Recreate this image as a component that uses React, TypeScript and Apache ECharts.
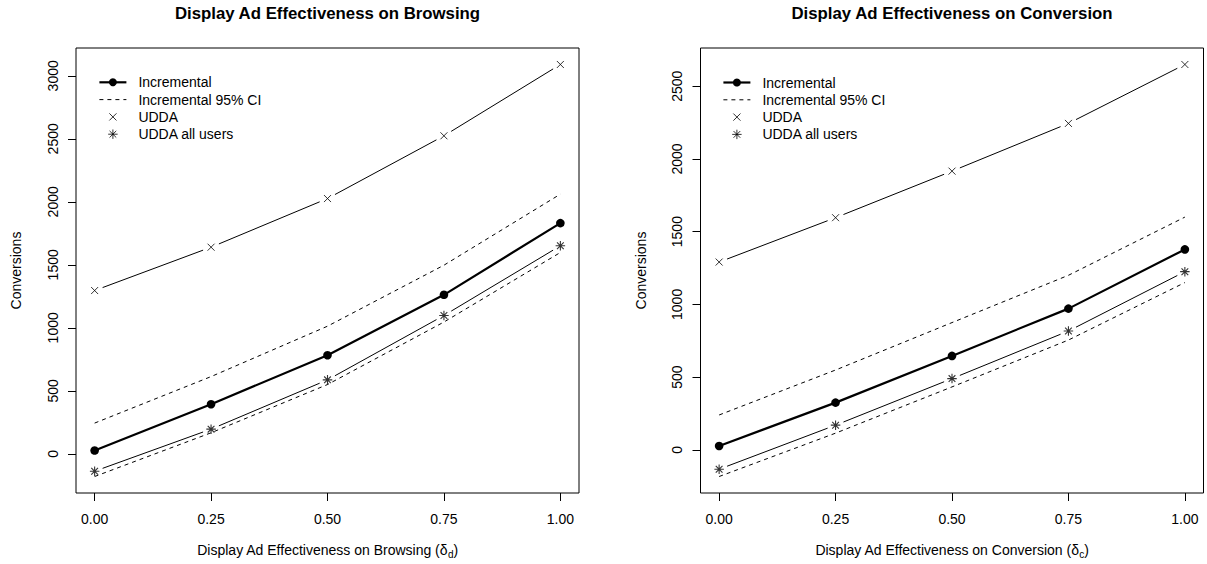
import React, { useEffect, useRef } from "react";
import * as echarts from "echarts";

// ---------- data ----------
const deltas = [0, 0.25, 0.5, 0.75, 1];
const xTickValues = [0, 0.25, 0.5, 0.75, 1];

const browsingIncremental = [26, 394, 783, 1262, 1831];
const browsingCIUpper = [244, 613, 1013, 1497, 2061];
const browsingCILower = [-180, 167, 550, 1046, 1598];
const browsingUDDA = [1296, 1640, 2026, 2524, 3090];
const browsingUDDAAll = [-138, 196, 587, 1098, 1651];
const browsingYTicks = [0, 500, 1000, 1500, 2000, 2500, 3000];

const conversionIncremental = [27, 325, 646, 971, 1378];
const conversionCIUpper = [240, 549, 875, 1200, 1600];
const conversionCILower = [-183, 115, 433, 755, 1150];
const conversionUDDA = [1291, 1596, 1916, 2244, 2649];
const conversionUDDAAll = [-133, 170, 490, 817, 1225];
const conversionYTicks = [0, 500, 1000, 1500, 2000, 2500];

const titles = [
  "Display Ad Effectiveness on Browsing",
  "Display Ad Effectiveness on Conversion",
];
const xNames = [
  "Display Ad Effectiveness on Browsing (δ{sub|d})",
  "Display Ad Effectiveness on Conversion (δ{sub|c})",
];
const yName = "Conversions";
const legendNames = ["Incremental", "Incremental 95% CI", "UDDA", "UDDA all users"];

// ---------- styling ----------
const FONT = "'Liberation Sans', Arial, Helvetica, sans-serif";
const X_PATH = "path://M0,0L10,10M10,0L0,10";
const STAR_PATH = "path://M1.46,1.46L8.54,8.54M8.54,1.46L1.46,8.54M5,0L5,10M0,5L10,5";
const X_ICON = "path://M-2,-2M12,12M0,0L10,10M10,0L0,10";
const STAR_ICON = "path://M-0.3,-0.3M10.3,10.3M1.46,1.46L8.54,8.54M8.54,1.46L1.46,8.54M5,0L5,10M0,5L10,5";
const GAP = 8.5;

const panels = [
  { left: 76, top: 48, width: 503, height: 445.5, legendLeft: 98.3, legendTop: 75.3 },
  { left: 700.5, top: 48, width: 503, height: 445.5, legendLeft: 722.3, legendTop: 75.5 },
];

function padRange(arrs: number[][]): [number, number] {
  const all = arrs.flat();
  const mn = Math.min(...all);
  const mx = Math.max(...all);
  const span = mx - mn;
  return [mn - 0.04 * span, mx + 0.04 * span];
}

function gapRender(params: any, api: any) {
  const p1 = api.coord([api.value(0), api.value(1)]);
  const p2 = api.coord([api.value(2), api.value(3)]);
  const dx = p2[0] - p1[0];
  const dy = p2[1] - p1[1];
  const len = Math.hypot(dx, dy) || 1;
  const ux = dx / len;
  const uy = dy / len;
  return {
    type: "line",
    shape: {
      x1: p1[0] + ux * GAP,
      y1: p1[1] + uy * GAP,
      x2: p2[0] - ux * GAP,
      y2: p2[1] - uy * GAP,
    },
    style: { stroke: "#000", lineWidth: 1 },
  };
}

function pts(ys: number[]) {
  return deltas.map((x, i) => [x, ys[i]]);
}
function segs(ys: number[]) {
  return deltas.slice(0, -1).map((x, i) => [x, ys[i], deltas[i + 1], ys[i + 1]]);
}

function panelSeries(
  idx: number,
  inc: number[],
  up: number[],
  lo: number[],
  udda: number[],
  uddaAll: number[]
) {
  const common = { xAxisIndex: idx, yAxisIndex: idx, silent: true };
  const ci = (ys: number[]) => ({
    ...common,
    type: "line",
    name: "Incremental 95% CI",
    data: pts(ys),
    symbol: "none",
    lineStyle: { color: "#000", width: 1, type: [4, 4] },
    itemStyle: { color: "#000" },
    z: 2,
  });
  const gapLine = (ys: number[], name: string) => ({
    ...common,
    type: "custom",
    name,
    data: segs(ys),
    encode: { x: [0, 2], y: [1, 3] },
    renderItem: gapRender,
    z: 3,
  });
  return [
    ci(up),
    ci(lo),
    gapLine(udda, "UDDA line"),
    gapLine(uddaAll, "UDDA all users line"),
    {
      ...common,
      type: "scatter",
      name: "UDDA",
      data: pts(udda),
      symbol: X_PATH,
      symbolSize: 7,
      itemStyle: { color: "rgba(0,0,0,0)", borderColor: "#000", borderWidth: 1 },
      z: 4,
    },
    {
      ...common,
      type: "scatter",
      name: "UDDA all users",
      data: pts(uddaAll),
      symbol: STAR_PATH,
      symbolSize: 9.5,
      itemStyle: { color: "rgba(0,0,0,0)", borderColor: "#000", borderWidth: 1.1 },
      z: 4,
    },
    {
      ...common,
      type: "line",
      name: "Incremental",
      data: pts(inc),
      symbol: "circle",
      symbolSize: 8.6,
      showSymbol: true,
      lineStyle: { color: "#000", width: 2.2 },
      itemStyle: { color: "#000" },
      z: 5,
    },
  ];
}

function legendFor(p: any) {
  return {
    orient: "vertical",
    left: p.legendLeft,
    top: p.legendTop,
    padding: 0,
    itemWidth: 27,
    itemHeight: 10,
    itemGap: 3.3,
    selectedMode: false,
    textStyle: { fontSize: 14, color: "#000", fontFamily: FONT, padding: [0, 0, 0, 7] },
    data: [
      { name: legendNames[0], lineStyle: { width: 2.2, color: "#000" }, itemStyle: { color: "#000" } },
      {
        name: legendNames[1],
        lineStyle: { width: 1, color: "#000", type: [4, 4] },
        itemStyle: { color: "rgba(0,0,0,0)", borderColor: "rgba(0,0,0,0)", borderWidth: 0 },
      },
      {
        name: legendNames[2],
        icon: X_ICON,
        itemStyle: { color: "rgba(0,0,0,0)", borderColor: "#000", borderWidth: 1 },
      },
      {
        name: legendNames[3],
        icon: STAR_ICON,
        itemStyle: { color: "rgba(0,0,0,0)", borderColor: "#000", borderWidth: 1 },
      },
    ],
  };
}

export default function App() {
  const ref = useRef<HTMLDivElement>(null);

  useEffect(() => {
    document.body.style.margin = "0";
    if (!ref.current) return;
    const chart = echarts.init(ref.current, null, { renderer: "svg" });

    const yRanges = [
      padRange([browsingIncremental, browsingCIUpper, browsingCILower, browsingUDDA, browsingUDDAAll]),
      padRange([conversionIncremental, conversionCIUpper, conversionCILower, conversionUDDA, conversionUDDAAll]),
    ];
    const yTicks = [browsingYTicks, conversionYTicks];

    const option: any = {
      animation: false,
      textStyle: { fontFamily: FONT, color: "#000" },
      title: panels.map((p, i) => ({
        text: titles[i],
        left: p.left + p.width / 2,
        top: 5,
        padding: 0,
        textAlign: "center",
        textStyle: { fontSize: 16.8, fontWeight: "bold", color: "#000", fontFamily: FONT },
      })),
      legend: panels.map((p) => legendFor(p)),
      grid: panels.map((p) => ({
        left: p.left,
        top: p.top,
        width: p.width,
        height: p.height,
        show: true,
        borderColor: "#000",
        borderWidth: 1,
        backgroundColor: "transparent",
        containLabel: false,
      })),
      xAxis: panels.map((p, i) => ({
        type: "value",
        gridIndex: i,
        min: -0.04,
        max: 1.04,
        splitLine: { show: false },
        axisLine: { show: false, onZero: false },
        axisTick: {
          show: true,
          inside: false,
          length: 8,
          customValues: xTickValues,
          lineStyle: { color: "#000", width: 1 },
        },
        axisLabel: {
          customValues: xTickValues,
          formatter: (v: number) => v.toFixed(2),
          fontSize: 14,
          color: "#000",
          fontFamily: FONT,
          margin: 19,
        },
        name: xNames[i],
        nameLocation: "middle",
        nameGap: 48,
        nameTextStyle: {
          fontSize: 14,
          color: "#000",
          fontFamily: FONT,
          lineHeight: 18,
          rich: {
            sub: { fontSize: 10, verticalAlign: "bottom", lineHeight: 18, fontFamily: FONT, color: "#000" },
          },
        },
      })),
      yAxis: panels.map((p, i) => ({
        type: "value",
        gridIndex: i,
        min: yRanges[i][0],
        max: yRanges[i][1],
        splitLine: { show: false },
        axisLine: { show: false, onZero: false },
        axisTick: {
          show: true,
          inside: false,
          length: 8,
          customValues: yTicks[i],
          lineStyle: { color: "#000", width: 1 },
        },
        axisLabel: {
          customValues: yTicks[i],
          formatter: (v: number) => String(v),
          rotate: 90,
          fontSize: 14,
          color: "#000",
          fontFamily: FONT,
          margin: 16.5,
        },
        name: yName,
        nameLocation: "middle",
        nameGap: 53,
        nameTextStyle: { fontSize: 14, color: "#000", fontFamily: FONT },
      })),
      series: [
        ...panelSeries(0, browsingIncremental, browsingCIUpper, browsingCILower, browsingUDDA, browsingUDDAAll),
        ...panelSeries(1, conversionIncremental, conversionCIUpper, conversionCILower, conversionUDDA, conversionUDDAAll),
      ],
    };

    chart.setOption(option);
    return () => chart.dispose();
  }, []);

  return <div ref={ref} style={{ width: 1207, height: 564 }} />;
}
